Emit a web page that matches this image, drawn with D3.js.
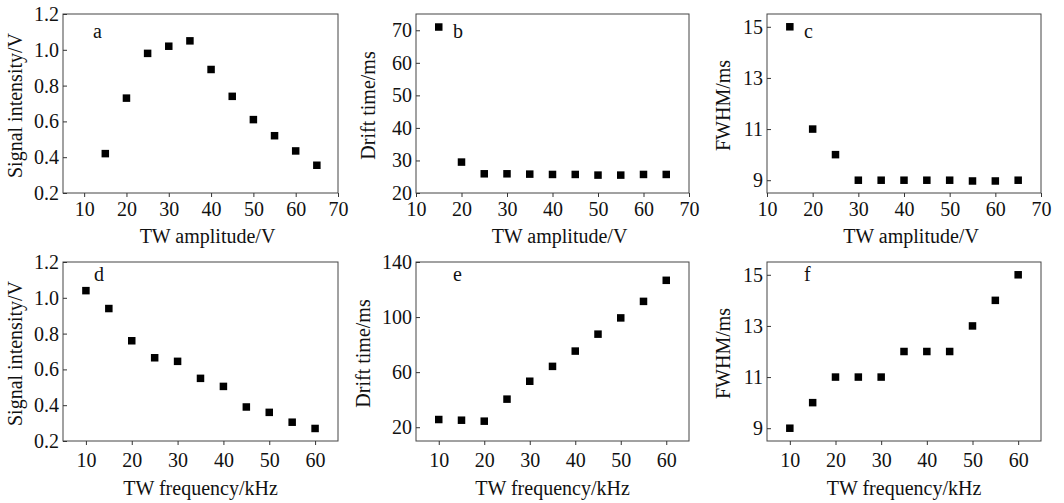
<!DOCTYPE html>
<html>
<head>
<meta charset="utf-8">
<script src="https://d3js.org/d3.v7.min.js"></script>
<style>
body { margin: 0; background: #fff; }
svg text { font-family: "Liberation Serif", "DejaVu Serif", serif; fill: #111; }
.axis path, .axis line { stroke: #333; }
</style>
</head>
<body>
<svg width="1064" height="503"></svg>
<script>
// x values
var ampX  = [15, 20, 25, 30, 35, 40, 45, 50, 55, 60, 65];
var freqX = [10, 15, 20, 25, 30, 35, 40, 45, 50, 55, 60];

// series
var ampSignal  = [0.42, 0.73, 0.98, 1.02, 1.05, 0.89, 0.74, 0.61, 0.52, 0.435, 0.355];
var ampDrift   = [71.0, 29.5, 25.9, 25.9, 25.8, 25.7, 25.7, 25.5, 25.5, 25.7, 25.7];
var ampFwhm    = [15, 11, 10, 9, 9, 9, 9, 9, 8.97, 8.97, 9];
var freqSignal = [1.04, 0.94, 0.76, 0.665, 0.645, 0.55, 0.505, 0.39, 0.36, 0.305, 0.27];
var freqDrift  = [25.6, 25.1, 24.4, 40.4, 53.4, 64.2, 75.3, 87.6, 99.4, 111.4, 126.7];
var freqFwhm   = [9, 10, 11, 11, 11, 12, 12, 12, 13, 14, 15];

// tick labels
var ampTicks    = [10, 20, 30, 40, 50, 60, 70];
var freqTicks   = [10, 20, 30, 40, 50, 60];
var signalTicks = [0.2, 0.4, 0.6, 0.8, 1.0, 1.2];
var driftTicksA = [20, 30, 40, 50, 60, 70];
var driftTicksF = [20, 60, 100, 140];
var fwhmTicks   = [9, 11, 13, 15];

var xTitleA = "TW amplitude/V", xTitleF = "TW frequency/kHz";
var yTitleS = "Signal intensity/V", yTitleD = "Drift time/ms", yTitleW = "FWHM/ms";

var svg = d3.select("svg");

// one entry per panel: frame box, domains, and label offsets
var panels = [
  {id:"a", x0:63,  x1:338,  y0:14,  y1:193, xd:[5,70],  yd:[0.2,1.2], xs:ampX,  ys:ampSignal,  xt:ampTicks,  yt:signalTicks, fmt:".1f", xl:xTitleA, yl:yTitleS, ytx:22,  lx:30, ly:24, tp:5,  tb:50, tdx:7},
  {id:"b", x0:416, x1:689,  y0:14,  y1:193, xd:[10,70], yd:[20,75],   xs:ampX,  ys:ampDrift,   xt:ampTicks,  yt:driftTicksA, fmt:"d",   xl:xTitleA, yl:yTitleD, ytx:375, lx:37, ly:24, tp:5,  tb:50, tdx:7},
  {id:"c", x0:767, x1:1041, y0:14,  y1:193, xd:[10,70], yd:[8.5,15.5],xs:ampX,  ys:ampFwhm,    xt:ampTicks,  yt:fwhmTicks,   fmt:"d",   xl:xTitleA, yl:yTitleW, ytx:730, lx:37, ly:24, tp:5,  tb:50, tdx:7},
  {id:"d", x0:63,  x1:338,  y0:262, y1:441, xd:[5,65],  yd:[0.2,1.2], xs:freqX, ys:freqSignal, xt:freqTicks, yt:signalTicks, fmt:".1f", xl:xTitleF, yl:yTitleS, ytx:22,  lx:31, ly:19, tp:8,  tb:54, tdx:0},
  {id:"e", x0:416, x1:689,  y0:262, y1:441, xd:[5,65],  yd:[10,140],  xs:freqX, ys:freqDrift,  xt:freqTicks, yt:driftTicksF, fmt:"d",   xl:xTitleF, yl:yTitleD, ytx:370, lx:37, ly:19, tp:8,  tb:54, tdx:0},
  {id:"f", x0:767, x1:1041, y0:262, y1:441, xd:[5,65],  yd:[8.5,15.5],xs:freqX, ys:freqFwhm,   xt:freqTicks, yt:fwhmTicks,   fmt:"d",   xl:xTitleF, yl:yTitleW, ytx:730, lx:37, ly:19, tp:8,  tb:54, tdx:0}
];

var fs = 20, sq = 7.5;

panels.forEach(function(p) {
  var x = d3.scaleLinear().domain(p.xd).range([p.x0, p.x1]);
  var y = d3.scaleLinear().domain(p.yd).range([p.y1, p.y0]);

  // frame
  svg.append("rect")
    .attr("x", p.x0).attr("y", p.y0)
    .attr("width", p.x1 - p.x0).attr("height", p.y1 - p.y0)
    .attr("fill", "none").attr("stroke", "#444").attr("stroke-width", 1);

  // bottom axis, ticks outward
  var gx = svg.append("g").attr("class", "axis")
    .attr("transform", "translate(0," + p.y1 + ")")
    .call(d3.axisBottom(x).tickValues(p.xt).tickFormat(d3.format("d")).tickSize(4).tickPadding(p.tp).tickSizeOuter(0));
  gx.selectAll("text").style("font-size", fs + "px").attr("fill", "#111");
  gx.select(".domain").remove();

  // left axis, ticks inward
  var gy = svg.append("g").attr("class", "axis")
    .attr("transform", "translate(" + p.x0 + ",0)")
    .call(d3.axisLeft(y).tickValues(p.yt).tickFormat(d3.format(p.fmt)).tickSize(-4).tickPadding(4).tickSizeOuter(0));
  gy.selectAll("text").style("font-size", fs + "px").attr("fill", "#111");
  gy.select(".domain").remove();

  // axis titles
  svg.append("text")
    .attr("x", (p.x0 + p.x1) / 2 + p.tdx).attr("y", p.y1 + p.tb)
    .attr("text-anchor", "middle").style("font-size", fs + "px")
    .text(p.xl);
  svg.append("text")
    .attr("transform", "translate(" + p.ytx + "," + ((p.y0 + p.y1) / 2 + 2) + ") rotate(-90)")
    .attr("text-anchor", "middle").style("font-size", fs + "px")
    .text(p.yl);

  // panel letter
  svg.append("text")
    .attr("x", p.x0 + p.lx).attr("y", p.y0 + p.ly)
    .style("font-size", fs + "px")
    .text(p.id);

  // square markers
  svg.append("g").selectAll("rect")
    .data(p.xs.map(function(d, i) { return [d, p.ys[i]]; }))
    .enter().append("rect")
    .attr("x", function(d) { return x(d[0]) - sq / 2; })
    .attr("y", function(d) { return y(d[1]) - sq / 2; })
    .attr("width", sq).attr("height", sq)
    .attr("fill", "#000");
});
</script>
</body>
</html>
